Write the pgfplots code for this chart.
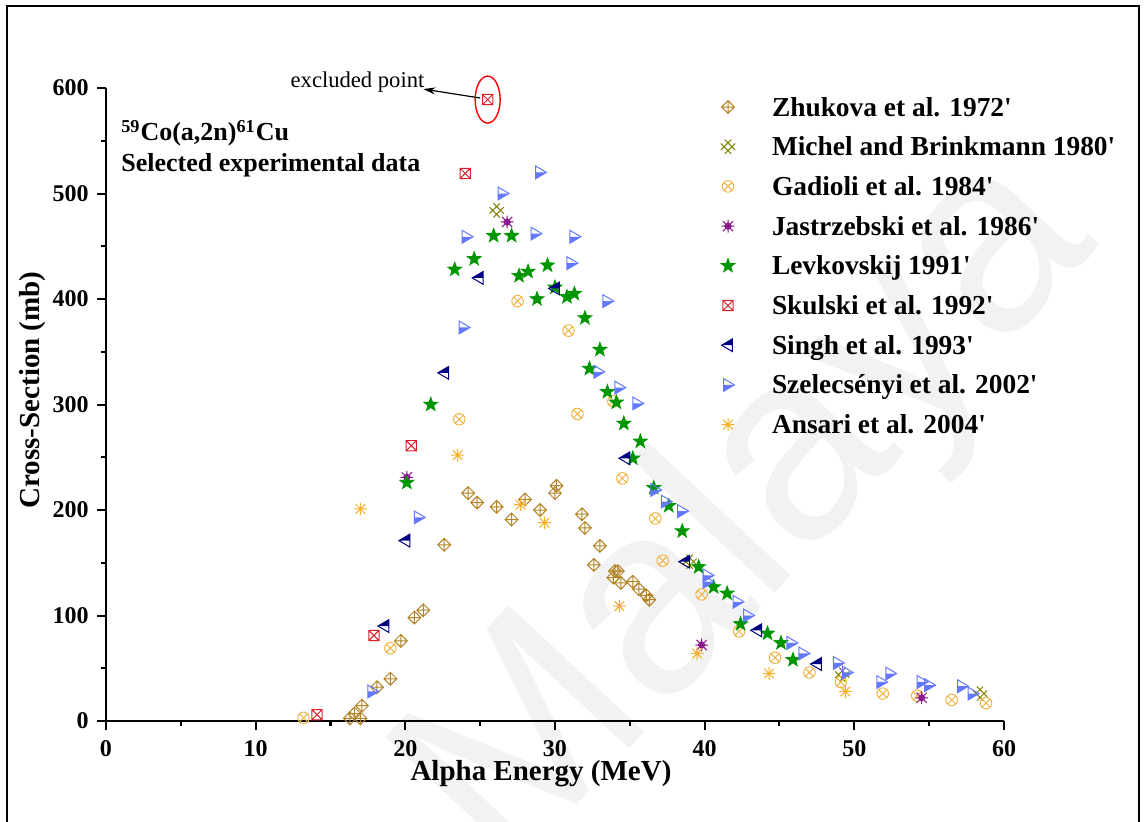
\documentclass[border=0pt]{standalone}
\usepackage{fontspec}
\setmainfont{Liberation Serif}
\newfontfamily\wmfont{Liberation Sans}
\usepackage{pgfplots}
\pgfplotsset{compat=1.18}
\usetikzlibrary{arrows.meta}

\definecolor{czhu}{RGB}{180,132,40}
\definecolor{cmic}{RGB}{128,128,0}
\definecolor{cgad}{RGB}{240,180,70}
\definecolor{cjas}{RGB}{140,20,140}
\definecolor{clev}{RGB}{0,150,0}
\definecolor{csku}{RGB}{220,30,40}
\definecolor{csin}{RGB}{0,0,128}
\definecolor{csze}{RGB}{100,120,255}
\definecolor{cans}{RGB}{245,175,40}

\pgfdeclareplotmark{diamondplus}{%
  \pgfpathmoveto{\pgfpoint{0pt}{\pgfplotmarksize}}%
  \pgfpathlineto{\pgfpoint{\pgfplotmarksize}{0pt}}%
  \pgfpathlineto{\pgfpoint{0pt}{-\pgfplotmarksize}}%
  \pgfpathlineto{\pgfpoint{-\pgfplotmarksize}{0pt}}%
  \pgfpathclose
  \pgfpathmoveto{\pgfpoint{0pt}{\pgfplotmarksize}}\pgfpathlineto{\pgfpoint{0pt}{-\pgfplotmarksize}}%
  \pgfpathmoveto{\pgfpoint{\pgfplotmarksize}{0pt}}\pgfpathlineto{\pgfpoint{-\pgfplotmarksize}{0pt}}%
  \pgfusepathqstroke}
\pgfdeclareplotmark{lattice}{%
  \pgfpathmoveto{\pgfpoint{-1.1\pgfplotmarksize}{-0.5\pgfplotmarksize}}\pgfpathlineto{\pgfpoint{0.5\pgfplotmarksize}{1.1\pgfplotmarksize}}%
  \pgfpathmoveto{\pgfpoint{-0.5\pgfplotmarksize}{-1.1\pgfplotmarksize}}\pgfpathlineto{\pgfpoint{1.1\pgfplotmarksize}{0.5\pgfplotmarksize}}%
  \pgfpathmoveto{\pgfpoint{-1.1\pgfplotmarksize}{0.5\pgfplotmarksize}}\pgfpathlineto{\pgfpoint{0.5\pgfplotmarksize}{-1.1\pgfplotmarksize}}%
  \pgfpathmoveto{\pgfpoint{-0.5\pgfplotmarksize}{1.1\pgfplotmarksize}}\pgfpathlineto{\pgfpoint{1.1\pgfplotmarksize}{-0.5\pgfplotmarksize}}%
  \pgfusepathqstroke}
\pgfdeclareplotmark{circx}{%
  \pgfpathcircle{\pgfpointorigin}{0.9\pgfplotmarksize}%
  \pgfpathmoveto{\pgfpoint{-0.64\pgfplotmarksize}{-0.64\pgfplotmarksize}}\pgfpathlineto{\pgfpoint{0.64\pgfplotmarksize}{0.64\pgfplotmarksize}}%
  \pgfpathmoveto{\pgfpoint{-0.64\pgfplotmarksize}{0.64\pgfplotmarksize}}\pgfpathlineto{\pgfpoint{0.64\pgfplotmarksize}{-0.64\pgfplotmarksize}}%
  \pgfusepathqstroke}
\pgfdeclareplotmark{burst}{%
  \pgfpathmoveto{\pgfpoint{0pt}{\pgfplotmarksize}}\pgfpathlineto{\pgfpoint{0pt}{-\pgfplotmarksize}}%
  \pgfpathmoveto{\pgfpoint{\pgfplotmarksize}{0pt}}\pgfpathlineto{\pgfpoint{-\pgfplotmarksize}{0pt}}%
  \pgfpathmoveto{\pgfpoint{-0.75\pgfplotmarksize}{-0.75\pgfplotmarksize}}\pgfpathlineto{\pgfpoint{0.75\pgfplotmarksize}{0.75\pgfplotmarksize}}%
  \pgfpathmoveto{\pgfpoint{-0.75\pgfplotmarksize}{0.75\pgfplotmarksize}}\pgfpathlineto{\pgfpoint{0.75\pgfplotmarksize}{-0.75\pgfplotmarksize}}%
  \pgfusepathqstroke}
\pgfdeclareplotmark{burstbox}{%
  \pgfpathmoveto{\pgfpoint{0pt}{\pgfplotmarksize}}\pgfpathlineto{\pgfpoint{0pt}{-\pgfplotmarksize}}%
  \pgfpathmoveto{\pgfpoint{\pgfplotmarksize}{0pt}}\pgfpathlineto{\pgfpoint{-\pgfplotmarksize}{0pt}}%
  \pgfpathmoveto{\pgfpoint{-0.8\pgfplotmarksize}{-0.8\pgfplotmarksize}}\pgfpathlineto{\pgfpoint{0.8\pgfplotmarksize}{0.8\pgfplotmarksize}}%
  \pgfpathmoveto{\pgfpoint{-0.8\pgfplotmarksize}{0.8\pgfplotmarksize}}\pgfpathlineto{\pgfpoint{0.8\pgfplotmarksize}{-0.8\pgfplotmarksize}}%
  \pgfpathmoveto{\pgfpoint{0pt}{0.55\pgfplotmarksize}}%
  \pgfpathlineto{\pgfpoint{0.55\pgfplotmarksize}{0pt}}%
  \pgfpathlineto{\pgfpoint{0pt}{-0.55\pgfplotmarksize}}%
  \pgfpathlineto{\pgfpoint{-0.55\pgfplotmarksize}{0pt}}%
  \pgfpathclose
  \pgfusepathqstroke}
\pgfdeclareplotmark{squarex}{%
  \pgfpathrectangle{\pgfpoint{-0.8\pgfplotmarksize}{-0.8\pgfplotmarksize}}{\pgfpoint{1.6\pgfplotmarksize}{1.6\pgfplotmarksize}}%
  \pgfpathmoveto{\pgfpoint{-0.8\pgfplotmarksize}{-0.8\pgfplotmarksize}}\pgfpathlineto{\pgfpoint{0.8\pgfplotmarksize}{0.8\pgfplotmarksize}}%
  \pgfpathmoveto{\pgfpoint{-0.8\pgfplotmarksize}{0.8\pgfplotmarksize}}\pgfpathlineto{\pgfpoint{0.8\pgfplotmarksize}{-0.8\pgfplotmarksize}}%
  \pgfusepathqstroke}
\pgfdeclareplotmark{fstar}{%
  \pgfpathmoveto{\pgfpointpolar{90}{1.1\pgfplotmarksize}}%
  \pgfpathlineto{\pgfpointpolar{126}{0.45\pgfplotmarksize}}%
  \pgfpathlineto{\pgfpointpolar{162}{1.1\pgfplotmarksize}}%
  \pgfpathlineto{\pgfpointpolar{198}{0.45\pgfplotmarksize}}%
  \pgfpathlineto{\pgfpointpolar{234}{1.1\pgfplotmarksize}}%
  \pgfpathlineto{\pgfpointpolar{270}{0.45\pgfplotmarksize}}%
  \pgfpathlineto{\pgfpointpolar{306}{1.1\pgfplotmarksize}}%
  \pgfpathlineto{\pgfpointpolar{342}{0.45\pgfplotmarksize}}%
  \pgfpathlineto{\pgfpointpolar{18}{1.1\pgfplotmarksize}}%
  \pgfpathlineto{\pgfpointpolar{54}{0.45\pgfplotmarksize}}%
  \pgfpathclose
  \pgfusepathqfillstroke}
\pgfdeclareplotmark{halfleft}{%
  \pgfpathmoveto{\pgfpoint{-\pgfplotmarksize}{0pt}}%
  \pgfpathlineto{\pgfpoint{0.7\pgfplotmarksize}{\pgfplotmarksize}}%
  \pgfpathlineto{\pgfpoint{0.7\pgfplotmarksize}{0pt}}%
  \pgfpathclose
  \pgfusepathqfill
  \pgfpathmoveto{\pgfpoint{-\pgfplotmarksize}{0pt}}%
  \pgfpathlineto{\pgfpoint{0.7\pgfplotmarksize}{\pgfplotmarksize}}%
  \pgfpathlineto{\pgfpoint{0.7\pgfplotmarksize}{-\pgfplotmarksize}}%
  \pgfpathclose
  \pgfusepathqstroke}
\pgfdeclareplotmark{halfright}{%
  \pgfpathmoveto{\pgfpoint{\pgfplotmarksize}{0pt}}%
  \pgfpathlineto{\pgfpoint{-0.7\pgfplotmarksize}{-\pgfplotmarksize}}%
  \pgfpathlineto{\pgfpoint{-0.7\pgfplotmarksize}{0pt}}%
  \pgfpathclose
  \pgfusepathqfill
  \pgfpathmoveto{\pgfpoint{\pgfplotmarksize}{0pt}}%
  \pgfpathlineto{\pgfpoint{-0.7\pgfplotmarksize}{\pgfplotmarksize}}%
  \pgfpathlineto{\pgfpoint{-0.7\pgfplotmarksize}{-\pgfplotmarksize}}%
  \pgfpathclose
  \pgfusepathqstroke}

\pgfplotsset{
  pt/.style={only marks, mark size=3.2pt,
    mark options={solid, line width=0.5pt},
    legend image code/.code={\path[draw=none, fill=none] (0pt,-3pt) rectangle (33pt,3pt);
      \draw[mark repeat=2,mark phase=2,##1] plot coordinates {(0pt,0pt) (11pt,0pt) (33pt,0pt)};}},
}
\newcommand{\q}{\textquotesingle}

\begin{document}
\begin{tikzpicture}
\node[anchor=base west, rotate=47, text=black!5, inner sep=0pt,
      font=\wmfont\fontsize{135}{135}\selectfont] at (200pt,-80pt) {Malaya};
\begin{axis}[
  scale only axis, width=449pt, height=316.5pt,
  xmin=0, xmax=60, ymin=0, ymax=600,
  axis lines=left,
  axis line style={-, line width=1pt},
  every inner x axis line/.append style={-},
  every inner y axis line/.append style={-},
  every outer x axis line/.append style={-},
  every outer y axis line/.append style={-},
  xtick={0,10,...,60}, ytick={0,100,...,600},
  minor x tick num=1, minor y tick num=1,
  tick align=outside,
  major tick length=4.5pt, minor tick length=2.5pt,
  tick style={line width=1pt, black},
  /pgf/number format/assume math mode=true,
  tick label style={font=\fontsize{12}{14}\selectfont\bfseries},
  xticklabel style={inner sep=0pt, anchor=north, yshift=-5pt},
  yticklabel style={inner sep=0pt, anchor=east, xshift=-4pt},
  xlabel={Alpha Energy (MeV)},
  ylabel={Cross-Section (mb)},
  label style={font=\fontsize{14.5}{16}\selectfont\bfseries},
  xlabel style={at={(axis description cs:0.4844,0)}, anchor=base, yshift=-29.5pt, inner sep=0pt},
  ylabel style={at={(axis description cs:0,0.523)}, anchor=base, rotate=0, yshift=33pt, inner sep=0pt},
  clip=false,
  legend style={draw=none, fill=none, at={(axis cs:40.09,594.3)}, anchor=north west,
    inner sep=0pt, outer sep=0pt, font=\fontsize{13.7}{16}\selectfont\bfseries,
    nodes={inner sep=0pt, text height=11pt, text depth=2pt}, row sep=6.85pt},
  legend cell align=left,
]
\addplot[pt, mark=diamondplus, draw=czhu] coordinates {
(16.3,2.5) (16.6,7) (17.0,2.5) (17.1,14.5) (18.1,32) (19.0,40) (19.7,76) (20.6,98) (21.2,105) (22.6,167)
(24.2,216) (24.8,207) (26.1,203) (27.1,191) (28.0,210) (29.0,200) (30.1,223) (30.0,216) (31.8,196) (32.0,183)
(33.0,166) (32.6,148) (34.0,142) (34.2,142) (33.9,136) (34.4,131) (35.2,132) (35.6,125) (36.1,119) (36.3,115)
};
\addlegendentry{Zhukova et al. 1972\q}
\addplot[pt, mark=lattice, draw=cmic] coordinates {
(26.1,484) (39.0,151) (49.2,44) (58.4,26)
};
\addlegendentry{Michel and Brinkmann 1980\q}
\addplot[pt, mark=circx, draw=cgad] coordinates {
(13.2,3) (19.0,69) (23.6,286) (27.5,398) (30.9,370) (31.5,291) (33.9,303) (34.5,230) (36.7,192) (37.2,152)
(39.8,120) (42.3,85) (44.7,60) (47.0,46) (49.1,37) (51.9,26) (54.2,24) (56.5,20) (58.8,17)
};
\addlegendentry{Gadioli et al. 1984\q}
\addplot[pt, mark=burstbox, draw=cjas] coordinates {
(20.1,231) (26.8,473) (39.8,72) (54.5,22)
};
\addlegendentry{Jastrzebski et al. 1986\q}
\addplot[pt, mark=fstar, draw=clev, fill=clev] coordinates {
(20.1,226) (21.7,300) (23.3,428) (24.6,438) (25.9,460) (27.1,460) (27.6,422) (28.2,426) (28.8,400) (29.5,432)
(30.0,411) (30.8,402) (31.3,405) (32.0,382) (33.0,352) (32.3,334) (33.5,312) (34.1,302) (34.6,282) (35.7,265)
(35.2,249) (36.6,221) (37.6,204) (38.5,180) (39.6,146) (40.6,127) (41.5,121) (42.4,92) (44.2,83) (45.1,74) (45.9,58)
};
\addlegendentry{Levkovskij 1991\q}
\addplot[pt, mark=squarex, draw=csku] coordinates {
(14.1,6) (17.9,81) (20.4,261) (24.0,519) (25.5,589)
};
\addlegendentry{Skulski et al. 1992\q}
\addplot[pt, mark=halfleft, draw=csin, fill=csin] coordinates {
(18.6,90) (20.0,171) (22.6,330) (24.9,420) (30.0,410) (34.7,249) (38.7,151) (43.5,86) (47.5,54)
};
\addlegendentry{Singh et al. 1993\q}
\addplot[pt, mark=halfright, draw=csze, fill=csze] coordinates {
(17.8,28) (20.9,193) (23.9,373) (24.1,459) (26.5,500) (28.7,462) (29.0,520) (31.1,434) (31.3,459) (32.9,331)
(33.5,398) (34.3,316) (35.5,301) (36.7,219) (37.4,208) (38.5,199) (40.2,138) (40.2,132) (42.2,113) (42.9,100)
(45.8,74) (46.6,64) (48.9,55) (49.5,46) (51.8,37) (52.4,45) (54.5,37) (55.0,34) (57.2,33) (57.9,26)
};
\addlegendentry{Szelecsényi et al. 2002\q}
\addplot[pt, mark=burst, draw=cans] coordinates {
(17.0,201) (23.5,252) (27.7,205) (29.3,188) (34.3,109) (39.5,64) (44.3,45) (49.4,28)
};
\addlegendentry{Ansari et al. 2004\q}

\draw[red, line width=0.7pt] (axis cs:25.5,589) ellipse [x radius=6.25pt, y radius=11.75pt];
\draw[-{Stealth[length=6pt,width=3.5pt]}, line width=0.6pt] (axis cs:25.0,590.5) -- (axis cs:21.2,599);
\node[anchor=east, inner sep=0pt, font=\fontsize{11.3}{13}\selectfont] at (axis cs:21.3,605.7) {excluded point};
\node[anchor=base west, inner sep=0pt, font=\fontsize{13}{15}\selectfont\bfseries] at (axis cs:1.0,549.8) {\textsuperscript{59}Co(a,2n)\textsuperscript{61}Cu};
\node[anchor=base west, inner sep=0pt, font=\fontsize{13}{15}\selectfont\bfseries] at (axis cs:1.0,520.4) {Selected experimental data};
\end{axis}
\draw[line width=1pt] (-49.5pt,-60pt) rectangle (516.5pt,357.5pt);
\pgfresetboundingbox
\path[use as bounding box] (-53pt,-50pt) rectangle (519.5pt,360.5pt);
\end{tikzpicture}
\end{document}
